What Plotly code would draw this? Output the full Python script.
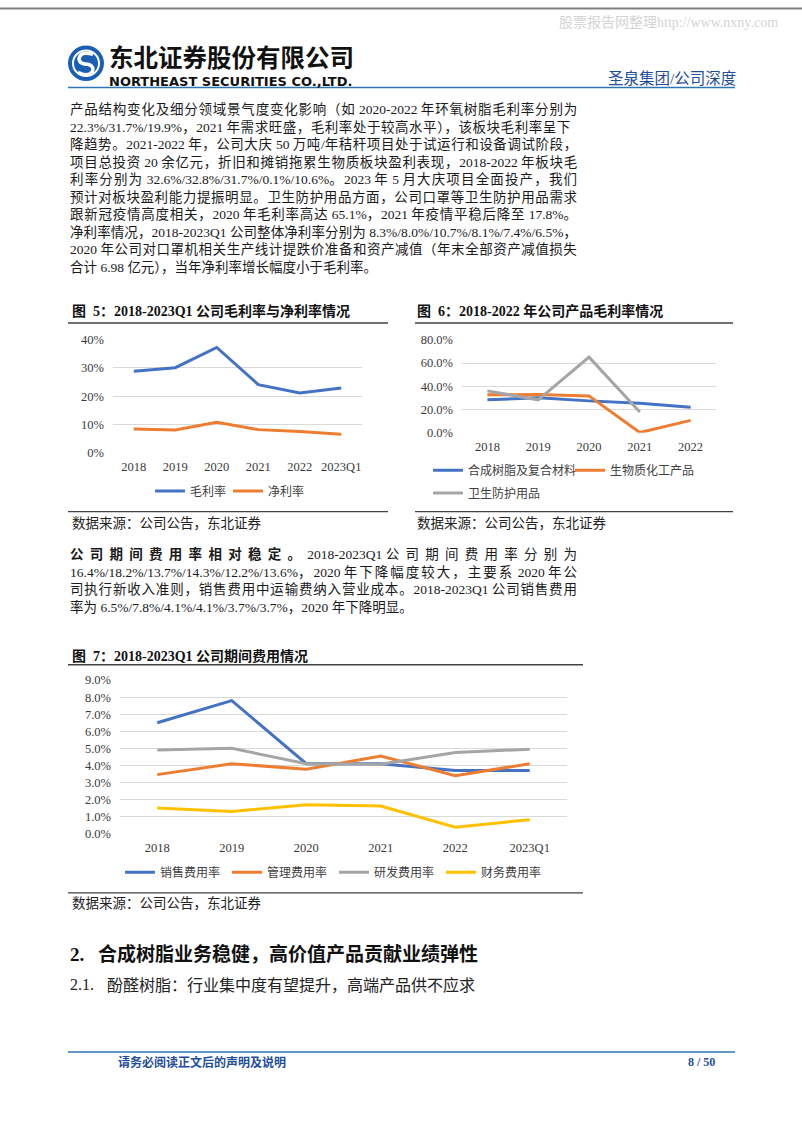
import plotly.graph_objects as go

# ---------------- data ----------------
years_a = ["2018", "2019", "2020", "2021", "2022", "2023Q1"]
gross_margin = [28.8, 30.1, 37.3, 24.1, 21.1, 22.9]
net_margin = [8.3, 8.0, 10.7, 8.1, 7.4, 6.5]

years_b = ["2018", "2019", "2020", "2021", "2022"]
resin_margin = [28.3, 30.1, 27.4, 25.4, 22.0]
biomass_margin = [32.6, 32.8, 31.7, 0.1, 10.6]
hygiene_margin = [36.0, 28.3, 65.1, 17.8, None]

selling_rate = [6.5, 7.8, 4.1, 4.1, 3.7, 3.7]
admin_rate = [3.46, 4.1, 3.77, 4.55, 3.4, 4.1]
rnd_rate = [4.9, 5.0, 4.1, 4.07, 4.75, 4.95]
finance_rate = [1.5, 1.3, 1.7, 1.62, 0.38, 0.82]

para1 = [
    "产品结构变化及细分领域景气度变化影响（如 2020-2022 年环氧树脂毛利率分别为",
    "22.3%/31.7%/19.9%，2021 年需求旺盛，毛利率处于较高水平），该板块毛利率呈下",
    "降趋势。2021-2022 年，公司大庆 50 万吨/年秸秆项目处于试运行和设备调试阶段，",
    "项目总投资 20 余亿元，折旧和摊销拖累生物质板块盈利表现，2018-2022 年板块毛",
    "利率分别为 32.6%/32.8%/31.7%/0.1%/10.6%。2023 年 5 月大庆项目全面投产，我们",
    "预计对板块盈利能力提振明显。卫生防护用品方面，公司口罩等卫生防护用品需求",
    "跟新冠疫情高度相关，2020 年毛利率高达 65.1%，2021 年疫情平稳后降至 17.8%。",
    "净利率情况，2018-2023Q1 公司整体净利率分别为 8.3%/8.0%/10.7%/8.1%/7.4%/6.5%，",
    "2020 年公司对口罩机相关生产线计提跌价准备和资产减值（年末全部资产减值损失",
    "合计 6.98 亿元），当年净利率增长幅度小于毛利率。",
]
para2_bold = "公司期间费用率相对稳定。"
para2 = [
    "2018-2023Q1 公司期间费用率分别为",
    "16.4%/18.2%/13.7%/14.3%/12.2%/13.6%，2020 年下降幅度较大，主要系 2020 年公",
    "司执行新收入准则，销售费用中运输费纳入营业成本。2018-2023Q1 公司销售费用",
    "率为 6.5%/7.8%/4.1%/4.1%/3.7%/3.7%，2020 年下降明显。",
]

# ---------------- style ----------------
W, H = 802, 1133
BLUE, ORANGE, GRAY, YELLOW = "#4472C4", "#ED7D31", "#A5A5A5", "#FFC000"
GRID = "#D9D9D9"
SERIF = "Liberation Serif, Noto Sans CJK SC"
SANS = "Noto Sans CJK SC"
HEAD_BLUE = "#1F4E9A"
LINE_BLUE = "#2E75B6"


def X(px):
    return px / W


def Y(py):
    return 1 - py / H


LATIN_EM = {'.': 0.25, ',': 0.25, '%': 0.833, '/': 0.278, '-': 0.333, ' ': 0.25, 'Q': 0.722}


def is_cjk(c):
    return ord(c) >= 0x2E80


def em_width(s):
    return sum(1.0 if is_cjk(c) else LATIN_EM.get(c, 0.5) for c in s)


def split_runs(s):
    runs = []
    for c in s:
        k = is_cjk(c)
        if runs and runs[-1][0] == k:
            runs[-1][1] += c
        else:
            runs.append([k, c])
    return runs


def justified(lines, fs, width, bold_prefix=""):
    out = []
    for i, ln in enumerate(lines):
        full = (bold_prefix + ln) if i == 0 else ln
        gaps = sum(1 for c in full if is_cjk(c)) - (1 if is_cjk(full[-1]) else 0)
        if i < len(lines) - 1 and gaps > 0:
            ls = (width - em_width(full) * fs) / gaps
        else:
            ls = 0
        html = ""
        if i == 0 and bold_prefix:
            html += '<b><span style="letter-spacing:%.2fpx">%s</span></b>' % (ls, bold_prefix)
        for k, txt in split_runs(ln):
            if k:
                html += '<span style="letter-spacing:%.2fpx">%s</span>' % (ls, txt)
            else:
                html += txt
        out.append(html)
    return "<br>".join(out)


fig = go.Figure()

# ----- figure 5 -----
fig.add_trace(go.Scatter(x=years_a, y=gross_margin, name="毛利率", mode="lines",
                         line=dict(color=BLUE, width=3), xaxis="x", yaxis="y",
                         legend="legend", cliponaxis=False))
fig.add_trace(go.Scatter(x=years_a, y=net_margin, name="净利率", mode="lines",
                         line=dict(color=ORANGE, width=3), xaxis="x", yaxis="y",
                         legend="legend", cliponaxis=False))
# ----- figure 6 -----
fig.add_trace(go.Scatter(x=years_b, y=resin_margin, name="合成树脂及复合材料", mode="lines",
                         line=dict(color=BLUE, width=3), xaxis="x2", yaxis="y2",
                         legend="legend2", cliponaxis=False))
fig.add_trace(go.Scatter(x=years_b, y=biomass_margin, name="生物质化工产品", mode="lines",
                         line=dict(color=ORANGE, width=3), xaxis="x2", yaxis="y2",
                         legend="legend2", cliponaxis=False))
fig.add_trace(go.Scatter(x=years_b, y=hygiene_margin, name="卫生防护用品", mode="lines",
                         line=dict(color=GRAY, width=3), xaxis="x2", yaxis="y2",
                         legend="legend3", cliponaxis=False))
# ----- figure 7 -----
for vals, nm, col in [(selling_rate, "销售费用率", BLUE), (admin_rate, "管理费用率", ORANGE),
                      (rnd_rate, "研发费用率", GRAY), (finance_rate, "财务费用率", YELLOW)]:
    fig.add_trace(go.Scatter(x=years_a, y=vals, name=nm, mode="lines",
                             line=dict(color=col, width=3), xaxis="x3", yaxis="y3",
                             legend="legend4", cliponaxis=False))

tickfont = dict(family=SERIF, size=12.5, color="#3a3a3a")
legfont = dict(family=SANS, size=12, color="#404040")


def xax(domain, anchor, n):
    return dict(domain=domain, anchor=anchor, type="category", range=[-0.5, n - 0.5],
                showgrid=False, showline=False, zeroline=False, ticks="",
                tickfont=tickfont, ticklabelstandoff=5, fixedrange=True)


def yax(domain, anchor, rng, dtick, fmt):
    return dict(domain=domain, anchor=anchor, range=rng, dtick=dtick, tickformat=fmt,
                ticksuffix="%", showgrid=True, gridcolor=GRID, gridwidth=1,
                zeroline=False, showline=False, ticks="", tickfont=tickfont,
                ticklabelstandoff=8, fixedrange=True)


def leg(x, y, ew=None):
    d = dict(x=X(x), y=Y(y), xanchor="left", yanchor="middle", orientation="h",
             font=legfont, bgcolor="rgba(0,0,0,0)", borderwidth=0)
    if ew:
        d["entrywidth"] = ew
    return d


annotations = []


def ann(text, x, y, size, color="#1a1a1a", family=SERIF, xanchor="left", yanchor="middle", pad=1):
    annotations.append(dict(text=text, x=X(x), y=Y(y), xref="paper", yref="paper",
                            xanchor=xanchor, yanchor=yanchor, showarrow=False, align="left",
                            borderpad=pad, font=dict(family=family, size=size, color=color)))


shapes = []


def hline(x0, x1, y, color, width):
    shapes.append(dict(type="line", xref="paper", yref="paper", x0=X(x0), x1=X(x1),
                       y0=Y(y), y1=Y(y), line=dict(color=color, width=width)))


def circle(cx, cy, r, fill):
    shapes.append(dict(type="circle", xref="paper", yref="paper", x0=X(cx - r), x1=X(cx + r),
                       y0=Y(cy + r), y1=Y(cy - r), fillcolor=fill, line=dict(width=0)))


def path(pts_cmd, color, width):
    s = ""
    for cmd, pts in pts_cmd:
        s += cmd + " ".join("%.5f,%.5f" % (X(a), Y(b)) for a, b in pts) + " "
    shapes.append(dict(type="path", xref="paper", yref="paper", path=s.strip(),
                       line=dict(color=color, width=width)))


# ---- header ----
hline(0, W, 1.5, "#7f7f7f", 2)
ann("股票报告网整理http://www.nxny.com", 557, 16, 14, "#d4d4d4")
circle(86, 57, 18, "#1a5fb4")
circle(86, 57, 14, "white")
circle(86, 57, 12, "#1a5fb4")
path([("M", [(93, 48)]), ("Q", [(80, 44), (79, 53)]), ("Q", [(80, 58), (88, 58)]),
      ("Q", [(95, 60), (92, 66)]), ("Q", [(87, 71), (78, 66)])], "white", 3.5)
ann("<b>东北证券股份有限公司</b>", 108, 50, 24.5, "#111111", SANS, pad=0)
ann("<b>NORTHEAST SECURITIES CO.,LTD.</b>", 108, 75, 13, "#111111", "DejaVu Sans", pad=0)
ann("圣泉集团/公司深度", 738, 72, 15.5, HEAD_BLUE, SERIF, xanchor="right")
hline(68, 735, 81.5, LINE_BLUE, 1.5)

# ---- paragraph 1 ----
ann(justified(para1, 13.5, 507), 68, 183.5, 13.5, "#1a1a1a")

# ---- figure 5 frame ----
ann("<b>图&nbsp;&nbsp;5：2018-2023Q1 公司毛利率与净利率情况</b>", 70, 308, 14, "#111111")
hline(68, 388, 320, "#404040", 1.5)
hline(68, 388, 511, "#404040", 1.2)
ann("数据来源：公司公告，东北证券", 70, 523, 13.5, "#222222")

# ---- figure 6 frame ----
ann("<b>图&nbsp;&nbsp;6：2018-2022 年公司产品毛利率情况</b>", 415, 308, 14, "#111111")
hline(415, 733, 320, "#404040", 1.5)
hline(415, 733, 511, "#404040", 1.2)
ann("数据来源：公司公告，东北证券", 415, 523, 13.5, "#222222")

# ---- paragraph 2 ----
ann(justified(para2, 13.5, 507, bold_prefix=para2_bold), 68, 581, 13.5, "#1a1a1a")

# ---- figure 7 frame ----
ann("<b>图&nbsp;&nbsp;7：2018-2023Q1 公司期间费用情况</b>", 70, 657, 14, "#111111")
hline(68, 583, 666, "#404040", 1.5)
hline(68, 583, 897, "#404040", 1.2)
ann("数据来源：公司公告，东北证券", 70, 908, 13.5, "#222222")

# ---- section headings ----
ann("<b>2.</b>", 68, 959, 19, "#111111")
ann("<b>合成树脂业务稳健，高价值产品贡献业绩弹性</b>", 96, 959, 19, "#111111")
ann("2.1.", 68, 990, 16, "#222222")
ann("酚醛树脂：行业集中度有望提升，高端产品供不应求", 105, 990, 16, "#222222")

# ---- footer ----
hline(68, 735, 1058, LINE_BLUE, 1.5)
ann("<b>请务必阅读正文后的声明及说明</b>", 116, 1068, 12, HEAD_BLUE, SANS)
ann("<b>8 / 50</b>", 717, 1068, 12, HEAD_BLUE, SERIF, xanchor="right")

fig.update_layout(
    width=W, height=H, autosize=False,
    margin=dict(l=0, r=0, t=0, b=0, pad=0),
    paper_bgcolor="white", plot_bgcolor="white",
    showlegend=True,
    xaxis=xax([X(113), X(362)], "y", 6),
    yaxis=yax([Y(451), Y(337)], "x", [0, 40], 10, "d"),
    xaxis2=xax([X(462), X(716)], "y2", 5),
    yaxis2=yax([Y(431), Y(337)], "x2", [0, 80], 20, ".1f"),
    xaxis3=xax([X(120), X(567)], "y3", 6),
    yaxis3=yax([Y(837), Y(681.5)], "x3", [0, 9], 1, ".1f"),
    legend=leg(150, 490, 33),
    legend2=leg(428, 469, 97),
    legend3=leg(428, 492),
    legend4=leg(120, 876, 62),
    annotations=annotations,
    shapes=shapes,
)

fig.write_html("out.html")
